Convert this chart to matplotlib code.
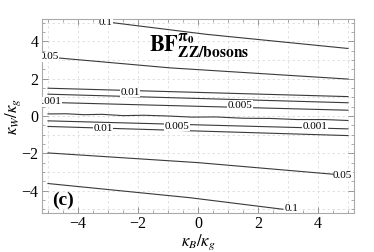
import matplotlib
matplotlib.use('Agg')
import matplotlib.pyplot as plt
from matplotlib.ticker import MultipleLocator

plt.rcParams['font.family'] = ['Liberation Serif', 'DejaVu Serif']
plt.rcParams['mathtext.fontset'] = 'stix'

# ---- traced contour lines (kappa_B/kappa_g, kappa_W/kappa_g) ----
up01_x = [-2.83, 0.27, 5.0]
up01_y = [5.0, 4.38, 3.62]
up005_x = [-5.0, -0.93, 5.0]
up005_y = [3.16, 2.58, 1.98]
up001_x = [-5.0, 5.0]
up001_y = [1.49, 1.04]
up0005_x = [-5.0, 5.0]
up0005_y = [1.17, 0.71]
up0001_x = [-5.0, 5.0]
up0001_y = [0.73, 0.31]
lo0001_x = [-5.0, -4.4, -3.8, -3.2, -2.5, -1.8, -1.0, -0.2, 0.6, 1.5, 2.4, 3.3, 4.2, 5.0]
lo0001_y = [0.11, 0.12, 0.07, 0.09, 0.02, 0.04, 0.0, -0.06, -0.05, -0.12, -0.13, -0.19, -0.19, -0.24]
lo0005_x = [-5.0, 5.0]
lo0005_y = [-0.26, -0.69]
lo001_x = [-5.0, 5.0]
lo001_y = [-0.56, -1.05]
lo005_x = [-5.0, 0.0, 5.0]
lo005_y = [-1.98, -2.50, -3.19]
lo01_x = [-5.0, -0.27, 2.83]
lo01_y = [-3.62, -4.38, -5.0]

lines = [(up01_x, up01_y), (up005_x, up005_y), (up001_x, up001_y),
         (up0005_x, up0005_y), (up0001_x, up0001_y), (lo0001_x, lo0001_y),
         (lo0005_x, lo0005_y), (lo001_x, lo001_y), (lo005_x, lo005_y),
         (lo01_x, lo01_y)]

label_texts = ['0.1', '0.05', '0.01', '0.001', '0.005', '0.01', '0.005', '0.001', '0.05', '0.1']
label_x = [-3.07, -4.95, -2.27, -4.95, 1.4, -3.17, -0.7, 3.9, 4.82, 3.13]
label_y = [5.03, 3.18, 1.26, 0.76, 0.58, -0.67, -0.56, -0.56, -3.18, -4.98]

xticks = [-4, -2, 0, 2, 4]
yticks = [-4, -2, 0, 2, 4]

fig = plt.figure(figsize=(3.74, 2.52), dpi=100)
ax = fig.add_axes([42/374, 1-213/252, (354-42)/374, (213-19)/252])

for gx in range(-5, 6):
    ax.axvline(gx, color='#dddddd', lw=0.6, ls=(0, (3, 3)), zorder=0)
for gy in range(-5, 6):
    ax.axhline(gy, color='#dddddd', lw=0.6, ls=(0, (3, 3)), zorder=0)

for lx, ly in lines:
    ax.plot(lx, ly, color='#3a3a3a', lw=0.8, zorder=2)

for t, x, y in zip(label_texts, label_x, label_y):
    ax.text(x, y, t, fontsize=8, ha='center', va='center', zorder=3,
            bbox=dict(facecolor='white', edgecolor='none', pad=0.2), clip_on=True)

ax.set_xlim(-5.2, 5.2)
ax.set_ylim(-5.2, 5.2)
ax.set_xticks(xticks)
ax.set_yticks(yticks)
ax.set_xticklabels([str(v).replace('-', '\u2212') for v in xticks])
ax.set_yticklabels([str(v).replace('-', '\u2212') for v in yticks])
ax.xaxis.set_minor_locator(MultipleLocator(0.5))
ax.yaxis.set_minor_locator(MultipleLocator(0.5))
ax.tick_params(which='both', direction='in', top=True, right=True, color='#888888',
               labelsize=11.5, pad=2.5)
ax.tick_params(which='major', length=4, width=0.6)
ax.tick_params(which='minor', length=2, width=0.5)
for s in ax.spines.values():
    s.set_color('#aaaaaa')
    s.set_linewidth(0.8)

ax.text(-1.62, 3.45, r'$\mathbf{BF}^{\mathbf{\pi_0}}_{\mathbf{ZZ/bosons}}$',
        fontsize=16, ha='left', va='baseline', zorder=4)
ax.text(-4.85, -4.75, '(c)', fontsize=14, fontweight='bold', ha='left', va='baseline', zorder=4)

ax.set_xlabel(r'$\kappa_B/\kappa_g$', fontsize=12, labelpad=0)
ax.set_ylabel(r'$\kappa_W/\kappa_g$', fontsize=12, labelpad=-1)

fig.savefig('out.png', dpi=100)
